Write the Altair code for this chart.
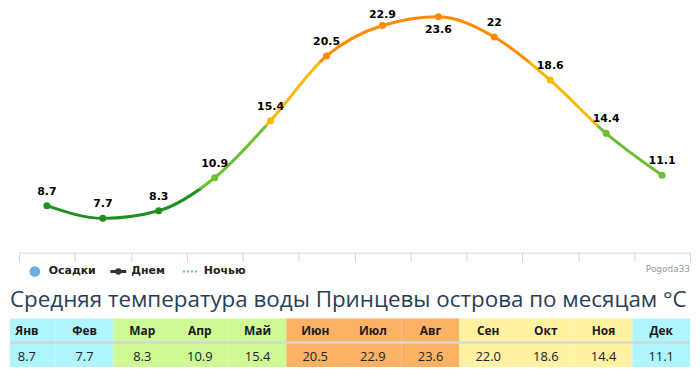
import altair as alt
import pandas as pd

# ---- data ----
months = ["Янв", "Фев", "Мар", "Апр", "Май", "Июн", "Июл", "Авг", "Сен", "Окт", "Ноя", "Дек"]
temps = [8.7, 7.7, 8.3, 10.9, 15.4, 20.5, 22.9, 23.6, 22.0, 18.6, 14.4, 11.1]
seasons = ["winter", "winter", "spring", "spring", "spring", "summer", "summer", "summer",
           "autumn", "autumn", "autumn", "winter"]
legend_names = ["Осадки", "Днем", "Ночью"]
title_text = "Средняя температура воды Принцевы острова по месяцам °C"
credit_text = "Pogoda33"

# zone thresholds and colours
zone_limits = [10, 15, 20]
zone_colors = ["#1f8f1f", "#6abf33", "#fbb800", "#ff8a00"]
season_domain = ["winter", "spring", "summer", "autumn"]
season_colors = ["#b0f4fc", "#cdfa94", "#fcb264", "#fff2a2"]

df = pd.DataFrame({"month": months, "temp": temps})

# gradient for the line (object bounding box spans min..max of data)
tmax, tmin = max(temps), min(temps)
def off(v):
    return (tmax - v) / (tmax - tmin)

stops = [
    (0.0, zone_colors[3]), (off(20), zone_colors[3]),
    (off(20), zone_colors[2]), (off(15), zone_colors[2]),
    (off(15), zone_colors[1]), (off(10), zone_colors[1]),
    (off(10), zone_colors[0]), (1.0, zone_colors[0]),
]
grad = alt.LinearGradient(
    gradient="linear",
    stops=[alt.GradientStop(color=c, offset=o) for o, c in stops],
    x1=0, x2=0, y1=0, y2=1,
)

W = 684
xenc = alt.X(
    "month:N", sort=months,
    scale=alt.Scale(type="band", domain=months, range=[9, W], paddingInner=0, paddingOuter=0),
    axis=alt.Axis(labels=False, title=None, domain=True, domainColor="#ccd6eb",
                  tickColor="#ccd6eb", tickSize=9, tickBand="extent", grid=False,
                  ticks=True, domainWidth=1),
)
yenc = alt.Y("temp:Q", scale=alt.Scale(domain=[5, 24.2], nice=False, zero=False), axis=None)

base = alt.Chart(df).encode(x=xenc, y=yenc)

line = base.mark_line(interpolate="monotone", strokeWidth=3, stroke=grad)
points = base.mark_circle(size=50, opacity=1).encode(
    color=alt.Color("temp:Q", scale=alt.Scale(type="threshold", domain=zone_limits, range=zone_colors),
                    legend=None)
)
lab_font = "Verdana, DejaVu Sans"
lab_style = dict(font=lab_font, fontWeight="bold", fontSize=11, color="#000", baseline="middle")
txt = alt.Text("temp:Q", format=".1~f")
labels = base.transform_filter(
    (alt.datum.month != "Авг") & (alt.datum.month != "Июл")
).mark_text(dy=-14, **lab_style).encode(text=txt)
labels_jul = base.transform_filter(alt.datum.month == "Июл").mark_text(
    dy=-10.5, **lab_style).encode(text=txt)
labels_aug = base.transform_filter(alt.datum.month == "Авг").mark_text(
    dy=13, **lab_style).encode(text=txt)

one = pd.DataFrame({"a": [0]})
ly = 264
leg_txt = dict(font=lab_font, fontWeight="bold", fontSize=11, align="left",
               baseline="middle", color="#222")
leg_c = alt.Chart(one).mark_circle(size=115, opacity=1, color="#6aaeea").encode(
    x=alt.value(25), y=alt.value(ly))
leg_t1 = alt.Chart(one).mark_text(text=legend_names[0], **leg_txt).encode(
    x=alt.value(39), y=alt.value(ly))
leg_l2 = alt.Chart(one).mark_rule(color="#333", strokeWidth=3).encode(
    x=alt.value(101), x2=alt.value(117), y=alt.value(ly))
leg_c2 = alt.Chart(one).mark_circle(size=40, opacity=1, color="#333").encode(
    x=alt.value(109), y=alt.value(ly))
leg_t2 = alt.Chart(one).mark_text(text=legend_names[1], **leg_txt).encode(
    x=alt.value(122), y=alt.value(ly))
leg_l3 = alt.Chart(one).mark_rule(color="#5fd35f", strokeWidth=2, strokeDash=[2, 2]).encode(
    x=alt.value(174), x2=alt.value(190), y=alt.value(ly))
leg_t3 = alt.Chart(one).mark_text(text=legend_names[2], **leg_txt).encode(
    x=alt.value(195), y=alt.value(ly))
credit = alt.Chart(one).mark_text(text=credit_text, font="DejaVu Sans", fontSize=9,
                                  align="right", baseline="middle", color="#999").encode(
    x=alt.value(W), y=alt.value(261))
title = alt.Chart(one).mark_text(text=title_text, font="Open Sans", fontSize=22.5,
                                 align="left", baseline="alphabetic", color="#2a3e53").encode(
    x=alt.value(0), y=alt.value(300))

top = alt.layer(line, points, labels, labels_jul, labels_aug, leg_c, leg_t1, leg_l2, leg_c2,
                leg_t2, leg_l3, leg_t3, credit, title).properties(width=W, height=245)

# ---- table ----
rows = []
for m, t, s in zip(months, temps, seasons):
    rows.append({"month": m, "row": "h", "txt": m, "season": s})
    rows.append({"month": m, "row": "v", "txt": f"{t:.1f}", "season": s})
tdf = pd.DataFrame(rows)

TH = 49
tx = alt.X("month:N", sort=months,
           scale=alt.Scale(type="band", domain=months, range=[-12, 684], paddingInner=0, paddingOuter=0),
           axis=None)
ty = alt.Y("row:N", scale=alt.Scale(type="band", domain=["h", "v"], paddingInner=0, paddingOuter=0),
           axis=None)
tbase = alt.Chart(tdf).encode(x=tx, y=ty)
cells = tbase.mark_rect(clip=True).encode(
    color=alt.Color("season:N", scale=alt.Scale(domain=season_domain, range=season_colors), legend=None))
htxt = tbase.transform_filter(alt.datum.row == "h").mark_text(
    clip=True, font="Open Sans", fontWeight="bold", fontSize=12, color="#1a1a1a", dy=1).encode(text="txt:N")
vtxt = tbase.transform_filter(alt.datum.row == "v").mark_text(
    clip=True, font="Open Sans", fontSize=13, color="#222", dy=2).encode(text="txt:N")
sep = alt.Chart(one).mark_rule(color="#d6d6d6", strokeWidth=2.5).encode(
    x=alt.value(0), x2=alt.value(W), y=alt.value(TH / 2))

table = alt.layer(cells, htxt, vtxt, sep).properties(width=684, height=TH)

chart = alt.vconcat(top, table, spacing=6).properties(padding=0).configure_view(stroke=None)

chart.save("out.html", embed_options={"renderer": "svg", "actions": False})
